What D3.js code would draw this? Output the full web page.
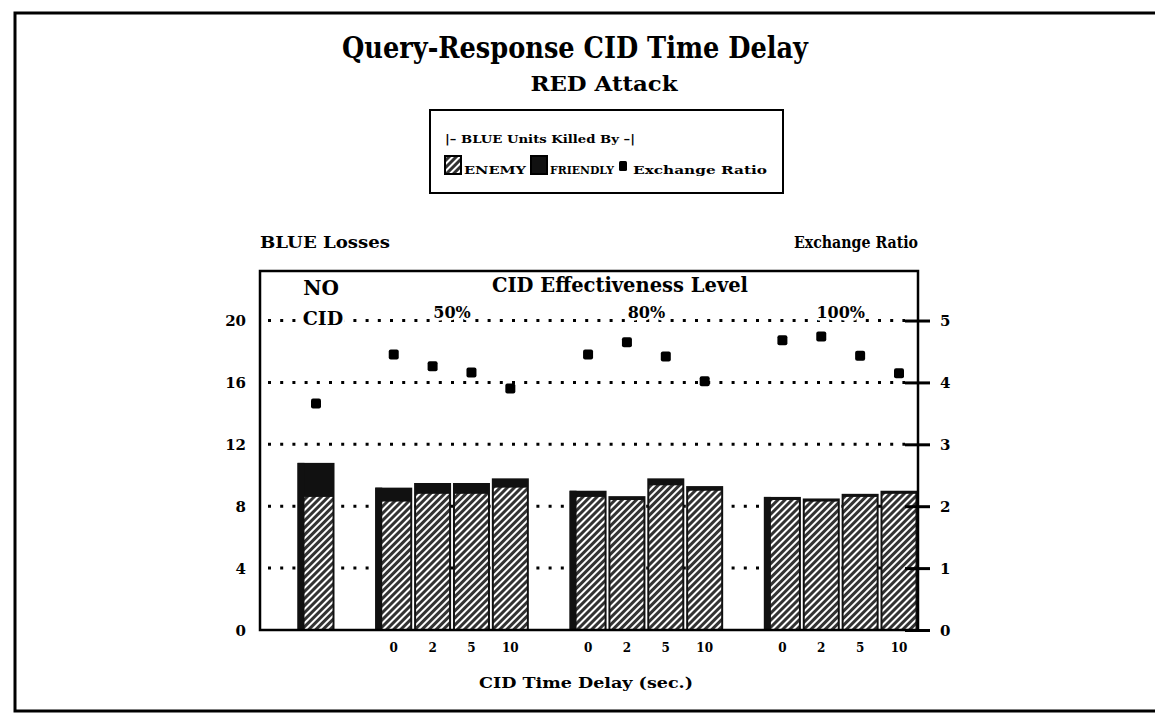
<!DOCTYPE html>
<html>
<head>
<meta charset="utf-8">
<script src="https://cdn.jsdelivr.net/npm/d3@7"></script>
<style>
  body { margin: 0; background: #fff; }
  svg text { font-family: "DejaVu Serif", serif; font-weight: bold; fill: #000; }
</style>
</head>
<body>
<svg id="chart" width="1155" height="714"></svg>
<script>
// CID effectiveness groups and time delays (sec.)
var groups = ['NO CID', '50%', '80%', '100%'];
var delays = ['0', '2', '5', '10'];

// BLUE units killed by ENEMY / FRIENDLY, one value per bar (NO CID, then 4 delays per level)
var enemy    = [8.6, 8.3, 8.8, 8.8, 9.2, 8.6, 8.4, 9.35, 9.0, 8.4, 8.3, 8.6, 8.8];
var friendly = [2.2, 0.9, 0.7, 0.7, 0.6, 0.4, 0.25, 0.45, 0.3, 0.2, 0.2, 0.2, 0.2];
var ratio    = [3.66, 4.45, 4.26, 4.16, 3.9, 4.45, 4.65, 4.42, 4.02, 4.68, 4.74, 4.43, 4.15];

var lossTicks = [0, 4, 8, 12, 16, 20];
var ratioTicks = [0, 1, 2, 3, 4, 5];

(function() {
// build the bar records
var bars = [];
bars.push({group: 0, delay: null, slot: 0});
for (var g = 1; g < groups.length; g++) {
    delays.forEach(function(d, j) {
        bars.push({group: g, delay: d, j: j, slot: 2 + (g - 1) * 5 + j});
    });
}
bars.forEach(function(b, i) {
    b.enemy = enemy[i];
    b.friendly = friendly[i];
    b.ratio = ratio[i];
});

var svg = d3.select('#chart');

var pL = 260, pR = 918, pT = 271, pB = 630;

var x = d3.scaleLinear().domain([0, 15]).range([316, 899]);
var y = d3.scaleLinear().domain([0, 23.2]).range([pB, pT]);
var yr = d3.scaleLinear().domain([0, 5.8]).range([pB, pT]);
var barW = 37;

// hatch pattern for ENEMY
var defs = svg.append('defs');
var pat = defs.append('pattern')
    .attr('id', 'hatch')
    .attr('patternUnits', 'userSpaceOnUse')
    .attr('width', 5).attr('height', 5)
    .attr('patternTransform', 'rotate(45)');
pat.append('rect').attr('width', 5).attr('height', 5).attr('fill', '#333');
pat.append('line').attr('x1', 1).attr('y1', 0).attr('x2', 1).attr('y2', 5)
    .attr('stroke', '#fff').attr('stroke-width', 2);

// outer page frame
svg.append('path')
    .attr('d', 'M1155,13 L15,13 L15,711 L1155,711')
    .attr('fill', 'none').attr('stroke', '#000').attr('stroke-width', 3);

// titles
svg.append('text').attr('x', 575).attr('y', 58).attr('text-anchor', 'middle')
    .style('font-size', '29px').attr('textLength', 466).attr('lengthAdjust', 'spacingAndGlyphs')
    .text('Query-Response CID Time Delay');
svg.append('text').attr('x', 604).attr('y', 91).attr('text-anchor', 'middle')
    .style('font-size', '20px').attr('textLength', 147).attr('lengthAdjust', 'spacingAndGlyphs')
    .text('RED Attack');

// legend
var lg = svg.append('g');
lg.append('rect').attr('x', 430).attr('y', 110).attr('width', 353).attr('height', 83)
    .attr('fill', 'none').attr('stroke', '#000').attr('stroke-width', 2);
lg.append('text').attr('x', 445).attr('y', 143).style('font-size', '11px')
    .attr('textLength', 190).attr('lengthAdjust', 'spacingAndGlyphs')
    .text('|\u2013 BLUE Units Killed By \u2013|');
lg.append('rect').attr('x', 445).attr('y', 156).attr('width', 16).attr('height', 18)
    .attr('fill', 'url(#hatch)').attr('stroke', '#000').attr('stroke-width', 2);
lg.append('text').attr('x', 464).attr('y', 174).style('font-size', '11px')
    .attr('textLength', 62).attr('lengthAdjust', 'spacingAndGlyphs').text('ENEMY');
lg.append('rect').attr('x', 531).attr('y', 156).attr('width', 16).attr('height', 18)
    .attr('fill', '#111').attr('stroke', '#000').attr('stroke-width', 2);
lg.append('text').attr('x', 550).attr('y', 174).style('font-size', '11px')
    .attr('textLength', 64).attr('lengthAdjust', 'spacingAndGlyphs').text('FRIENDLY');
lg.append('rect').attr('x', 619).attr('y', 161).attr('width', 8).attr('height', 10)
    .attr('rx', 1.5).attr('fill', '#000');
lg.append('text').attr('x', 633).attr('y', 174).style('font-size', '11px')
    .attr('textLength', 134).attr('lengthAdjust', 'spacingAndGlyphs').text('Exchange Ratio');

// axis titles
svg.append('text').attr('x', pL).attr('y', 248).style('font-size', '16px')
    .attr('textLength', 130).attr('lengthAdjust', 'spacingAndGlyphs').text('BLUE Losses');
svg.append('text').attr('x', pR).attr('y', 248).attr('text-anchor', 'end').style('font-size', '16px')
    .attr('textLength', 124).attr('lengthAdjust', 'spacingAndGlyphs').text('Exchange Ratio');

// dotted grid lines
svg.append('g').selectAll('line')
    .data(lossTicks.filter(function(t) { return t > 0; }))
    .enter().append('line')
        .attr('x1', pL + 8).attr('x2', 905)
        .attr('y1', function(d) { return y(d); })
        .attr('y2', function(d) { return y(d); })
        .attr('stroke', '#000').attr('stroke-width', 3)
        .attr('stroke-dasharray', '3,9.2');

// bars
var bg = svg.append('g').selectAll('g').data(bars).enter().append('g');
bg.append('rect')
    .attr('x', function(d) { return x(d.slot) - barW / 2; })
    .attr('width', barW)
    .attr('y', function(d) { return y(d.enemy + d.friendly); })
    .attr('height', function(d) { return y(0) - y(d.enemy + d.friendly); })
    .attr('fill', '#111');
bg.append('rect')
    .attr('x', function(d) { return x(d.slot) - barW / 2 + 2; })
    .attr('width', barW - 4)
    .attr('y', function(d) { return y(d.enemy); })
    .attr('height', function(d) { return y(0) - y(d.enemy); })
    .attr('fill', 'url(#hatch)');
// darker left edge on the first bar of each level
bg.filter(function(d) { return !d.j; }).append('rect')
    .attr('x', function(d) { return x(d.slot) - barW / 2; })
    .attr('width', 7)
    .attr('y', function(d) { return y(d.enemy + d.friendly); })
    .attr('height', function(d) { return y(0) - y(d.enemy + d.friendly); })
    .attr('fill', '#111');

// exchange ratio markers
svg.append('g').selectAll('rect').data(bars).enter().append('rect')
    .attr('x', function(d) { return x(d.slot) - 5; })
    .attr('y', function(d) { return yr(d.ratio) - 5; })
    .attr('width', 10).attr('height', 10).attr('rx', 2)
    .attr('fill', '#000');

// plot frame
svg.append('rect').attr('x', pL).attr('y', pT).attr('width', pR - pL).attr('height', pB - pT)
    .attr('fill', 'none').attr('stroke', '#000').attr('stroke-width', 2.5);

// left axis labels
var ax = svg.append('g').attr('transform', 'translate(' + (pL - 14) + ',0)')
    .call(d3.axisLeft(y).tickValues(lossTicks).tickSize(0).tickPadding(0));
ax.select('.domain').remove();
ax.selectAll('text').style('font-size', '15px').style('font-family', '"DejaVu Serif", serif')
    .style('font-weight', 'bold').attr('dy', '0.36em');

// right axis
var axr = svg.append('g').attr('transform', 'translate(' + pR + ',0)')
    .call(d3.axisRight(yr).tickValues(ratioTicks).tickFormat(d3.format('d')).tickSize(12).tickPadding(10));
axr.select('.domain').remove();
axr.selectAll('.tick line').attr('x1', -13).attr('stroke-width', 3);
axr.selectAll('text').style('font-size', '15px').style('font-family', '"DejaVu Serif", serif')
    .style('font-weight', 'bold').attr('dy', '0.36em');

// x tick labels (delays)
svg.append('g').selectAll('text').data(bars.filter(function(d) { return d.delay !== null; }))
    .enter().append('text')
        .attr('x', function(d) { return x(d.slot); })
        .attr('y', 652)
        .attr('text-anchor', 'middle')
        .style('font-size', '12px')
        .text(function(d) { return d.delay; });

// level labels with white halo over the grid
function haloText(tx, ty, size, str) {
    svg.append('text').attr('x', tx).attr('y', ty).attr('text-anchor', 'middle')
        .style('font-size', size).attr('stroke', '#fff').attr('stroke-width', 5)
        .attr('stroke-linejoin', 'round').text(str);
    return svg.append('text').attr('x', tx).attr('y', ty).attr('text-anchor', 'middle')
        .style('font-size', size).text(str);
}
svg.append('text').attr('x', 620).attr('y', 292).attr('text-anchor', 'middle').style('font-size', '21px')
    .attr('textLength', 256).attr('lengthAdjust', 'spacingAndGlyphs').text('CID Effectiveness Level');
haloText(x(0) + 5, 295, '20px', 'NO');
haloText(x(0) + 7, 325, '19px', 'CID');
groups.slice(1).forEach(function(gname, i) {
    var cx = (x(2 + i * 5) + x(5 + i * 5)) / 2;
    haloText(cx, 318, '16px', gname);
});

svg.append('text').attr('x', 586).attr('y', 688).attr('text-anchor', 'middle').style('font-size', '15px')
    .attr('textLength', 214).attr('lengthAdjust', 'spacingAndGlyphs').text('CID Time Delay (sec.)');
})();
</script>
</body>
</html>
